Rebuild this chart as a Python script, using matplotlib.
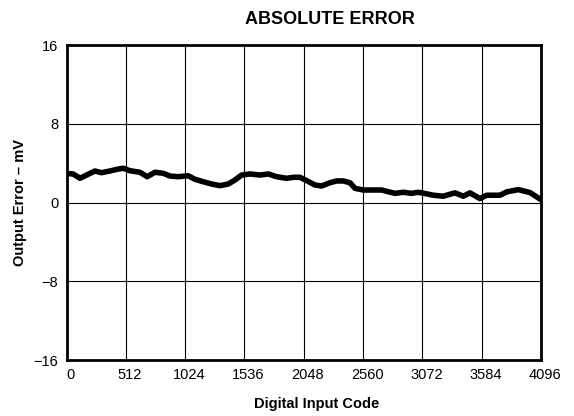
import numpy as np
import matplotlib.pyplot as plt
import matplotlib.transforms as mtransforms

plt.rcParams['font.family'] = ['Liberation Sans', 'DejaVu Sans']

# digital input code vs absolute output error (mV)
codes = [0, 57, 115, 173, 244, 302, 374, 446, 489, 547, 633, 696, 763, 834,
         892, 964, 1050, 1108, 1180, 1252, 1324, 1396, 1454, 1511, 1583, 1669,
         1741, 1813, 1900, 1957, 2015, 2073, 2144, 2202, 2274, 2332, 2389,
         2447, 2490, 2562, 2648, 2720, 2777, 2835, 2907, 2979, 3036, 3100,
         3166, 3252, 3353, 3425, 3483, 3569, 3627, 3742, 3800, 3900, 4001,
         4095]
error_mv = [2.95, 2.90, 2.46, 2.79, 3.20, 3.03, 3.20, 3.40, 3.48, 3.23, 3.07,
            2.62, 3.07, 2.97, 2.69, 2.62, 2.72, 2.36, 2.11, 1.88, 1.71, 1.88,
            2.29, 2.79, 2.90, 2.79, 2.90, 2.62, 2.46, 2.56, 2.56, 2.22, 1.78,
            1.68, 2.01, 2.19, 2.19, 2.01, 1.44, 1.27, 1.27, 1.27, 1.10, 0.93,
            1.04, 0.93, 1.04, 0.90, 0.74, 0.64, 0.98, 0.64, 0.98, 0.40, 0.74,
            0.74, 1.08, 1.31, 1.01, 0.30]

x_ticks = [0, 512, 1024, 1536, 2048, 2560, 3072, 3584, 4096]
y_ticks = [-16, -8, 0, 8, 16]

fig = plt.figure(figsize=(5.74, 4.16), dpi=100)
ax = fig.add_axes([0.116, 0.1346, 0.8265, 0.7572])

ax.plot(codes, error_mv, color='black', lw=4.0,
        solid_joinstyle='round', solid_capstyle='round', zorder=3)

ax.set_xlim(0, 4096)
ax.set_ylim(-16, 16)
ax.set_xticks(x_ticks)
ax.set_yticks(y_ticks)
ax.tick_params(length=0, labelsize=10.5, pad=6)
ax.grid(True, color='black', lw=0.8)

# labels in the reference sit a little right of their grid lines
offset = mtransforms.ScaledTranslation(4 / 100, 0, fig.dpi_scale_trans)
for lbl in ax.get_xticklabels():
    lbl.set_transform(lbl.get_transform() + offset)

for s in ax.spines.values():
    s.set_linewidth(2)

ax.set_ylabel('Output Error – mV', fontsize=10.5, fontweight='bold', labelpad=5)
fig.text(317 / 574, 1 - 404 / 416, 'Digital Input Code', fontsize=10.5,
         fontweight='bold', ha='center', va='center')
fig.text(330 / 574, 1 - 19 / 416, 'ABSOLUTE ERROR', fontsize=13,
         fontweight='bold', ha='center', va='center')

fig.savefig('out.png', dpi=100)
